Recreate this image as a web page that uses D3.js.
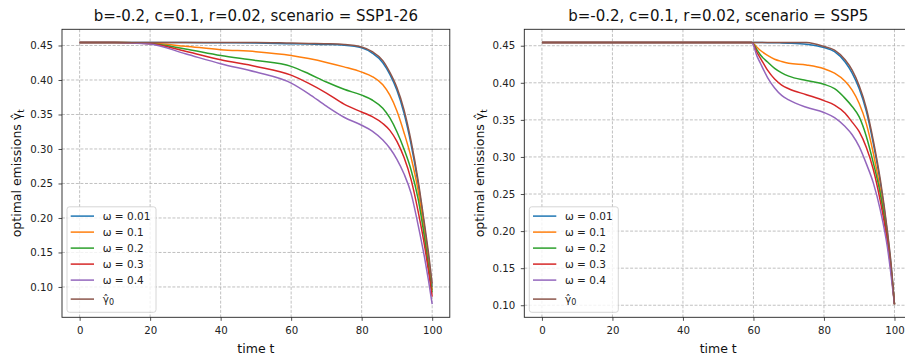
<!DOCTYPE html>
<html><head><meta charset="utf-8">
<script src="https://cdn.jsdelivr.net/npm/d3@7"></script>
<style>
html,body{margin:0;padding:0;background:#fff;}
svg{display:block;font-family:"DejaVu Sans",sans-serif;}
</style></head>
<body><svg id="chart" width="905" height="356"></svg>
<script>
// ---------- data ----------
const seriesLabels = ["ω = 0.01", "ω = 0.1", "ω = 0.2", "ω = 0.3", "ω = 0.4", "γ̂0"];
const xTicks = [0, 20, 40, 60, 80, 100];
const yTicks = [0.10, 0.15, 0.20, 0.25, 0.30, 0.35, 0.40, 0.45];
const titleA = "b=-0.2, c=0.1, r=0.02, scenario = SSP1-26";
const titleB = "b=-0.2, c=0.1, r=0.02, scenario = SSP5";

// Scenario SSP1-26
const timesA   = [0, 10, 20, 30, 40, 50, 60, 65, 70, 75, 80, 83, 86, 88, 90, 92, 94, 96, 98, 99, 100];
const w001A    = [0.4545,0.4545,0.4545,0.4543,0.454,0.4535,0.4525,0.452,0.4515,0.4505,0.4466,0.439,0.425,0.408,0.385,0.352,0.307,0.250,0.180,0.142,0.100];
const w01A     = [0.4545,0.4545,0.4535,0.449,0.444,0.441,0.4355,0.431,0.4255,0.419,0.4114,0.405,0.393,0.378,0.355,0.324,0.288,0.240,0.172,0.133,0.095];
const w02A     = [0.4545,0.4545,0.453,0.445,0.4355,0.4283,0.4197,0.409,0.397,0.3865,0.378,0.371,0.359,0.345,0.325,0.300,0.270,0.228,0.165,0.128,0.092];
const w03A     = [0.4545,0.4545,0.4525,0.4418,0.4293,0.4197,0.407,0.395,0.381,0.365,0.3536,0.347,0.337,0.327,0.311,0.288,0.256,0.210,0.155,0.122,0.086];
const w04A     = [0.4545,0.4545,0.452,0.438,0.4236,0.4115,0.3955,0.380,0.362,0.346,0.3344,0.326,0.313,0.301,0.285,0.264,0.236,0.190,0.138,0.108,0.075];
const gamma0A  = [0.4545,0.4545,0.4545,0.4545,0.4545,0.4545,0.4535,0.453,0.4525,0.4515,0.4478,0.441,0.428,0.411,0.389,0.357,0.312,0.255,0.185,0.148,0.105];

// Scenario SSP5
const timesB   = [0, 20, 40, 59.5, 61, 62, 64, 66, 68, 70, 75, 80, 83, 86, 88, 90, 92, 94, 96, 98, 99, 100];
const w001B    = [0.4545,0.4545,0.4545,0.4545,0.4544,0.4543,0.4541,0.454,0.4538,0.4535,0.452,0.4475,0.442,0.428,0.413,0.392,0.362,0.318,0.265,0.197,0.155,0.1014];
const w01B     = [0.4545,0.4545,0.4545,0.4545,0.448,0.4435,0.437,0.4318,0.4288,0.4265,0.424,0.419,0.413,0.402,0.390,0.372,0.345,0.305,0.255,0.193,0.152,0.1014];
const w02B     = [0.4545,0.4545,0.4545,0.4545,0.4445,0.4375,0.428,0.4195,0.4135,0.409,0.403,0.398,0.392,0.379,0.368,0.354,0.328,0.292,0.250,0.190,0.150,0.1014];
const w03B     = [0.4545,0.4545,0.4545,0.4545,0.441,0.433,0.417,0.405,0.397,0.392,0.384,0.376,0.370,0.359,0.347,0.334,0.313,0.283,0.240,0.185,0.148,0.1014];
const w04B     = [0.4545,0.4545,0.4545,0.4545,0.436,0.426,0.407,0.393,0.383,0.377,0.367,0.360,0.353,0.341,0.330,0.314,0.291,0.265,0.228,0.178,0.142,0.1014];
const gamma0B  = [0.4545,0.4545,0.4545,0.4545,0.4545,0.4545,0.4545,0.4545,0.4545,0.4545,0.4542,0.449,0.444,0.431,0.417,0.396,0.366,0.322,0.269,0.200,0.158,0.1014];

const colors = ["#1f77b4", "#ff7f0e", "#2ca02c", "#d62728", "#9467bd", "#8c564b"];

// ---------- drawing ----------
const svg = d3.select("#chart");

const panels = [
  {title: titleA, times: timesA, series: [w001A, w01A, w02A, w03A, w04A, gamma0A], left: 62, ylabX: 21},
  {title: titleB, times: timesB, series: [w001B, w01B, w02B, w03B, w04B, gamma0B], left: 524.3, ylabX: 484}
];
const plotTop = 29.3, plotH = 288, plotW = 387.8;

panels.forEach(p => {
  const g = svg.append("g").attr("transform", `translate(${p.left},${plotTop})`);
  const allVals = p.series.flat();
  const mn = d3.min(allVals), mx = d3.max(allVals), span = mx - mn;
  const x = d3.scaleLinear().domain([-5, 105]).range([0, plotW]);
  const y = d3.scaleLinear().domain([mn - 0.05 * span, mx + 0.05 * span]).range([plotH, 0]);

  // grid
  const grid = g.append("g").attr("stroke", "#b0b0b0").attr("stroke-width", 0.8).attr("stroke-dasharray", "3,1.6");
  xTicks.forEach(t => grid.append("line").attr("x1", x(t)).attr("x2", x(t)).attr("y1", 0).attr("y2", plotH));
  yTicks.forEach(t => grid.append("line").attr("x1", 0).attr("x2", plotW).attr("y1", y(t)).attr("y2", y(t)));

  // lines
  const clip = "clip" + Math.round(p.left);
  g.append("clipPath").attr("id", clip).append("rect").attr("width", plotW).attr("height", plotH);
  const line = d3.line().x(d => x(d[0])).y(d => y(d[1])).curve(d3.curveMonotoneX);
  p.series.forEach((vals, i) => {
    g.append("path")
      .attr("clip-path", `url(#${clip})`)
      .attr("d", line(p.times.map((t, j) => [t, vals[j]])))
      .attr("fill", "none").attr("stroke", colors[i]).attr("stroke-width", 1.5)
      .attr("stroke-linejoin", "round").attr("stroke-linecap", "butt");
  });

  // axes
  const xa = g.append("g").attr("transform", `translate(0,${plotH})`)
    .call(d3.axisBottom(x).tickValues(xTicks).tickSize(3.5).tickPadding(6).tickFormat(d3.format("d")));
  const ya = g.append("g")
    .call(d3.axisLeft(y).tickValues(yTicks).tickSize(3.5).tickPadding(5.5).tickFormat(d3.format(".2f")));
  [xa, ya].forEach(a => {
    a.select(".domain").remove();
    a.selectAll("line").attr("stroke", "#222").attr("stroke-width", 0.8);
    a.selectAll("text").attr("fill", "#222").style("font-size", "10.2px").style("font-family", "DejaVu Sans");
  });

  // frame
  g.append("rect").attr("width", plotW).attr("height", plotH)
    .attr("fill", "none").attr("stroke", "#222").attr("stroke-width", 0.9);

  // title
  svg.append("text").attr("x", p.left + plotW / 2).attr("y", 21)
    .attr("text-anchor", "middle").attr("fill", "#111").style("font-size", "15px").text(p.title);

  // x label
  svg.append("text").attr("x", p.left + plotW / 2).attr("y", 353)
    .attr("text-anchor", "middle").attr("fill", "#111").style("font-size", "12.5px").text("time t");

  // y label
  const yl = svg.append("text")
    .attr("transform", `translate(${p.ylabX},${plotTop + plotH / 2}) rotate(-90)`)
    .attr("text-anchor", "middle").attr("fill", "#111").style("font-size", "12.5px");
  yl.append("tspan").text("optimal emissions γ\u0302");
  yl.append("tspan").attr("dy", 3).style("font-size", "9px").text("t");

  // legend
  const lg = g.append("g").attr("transform", `translate(5,${plotH - 5 - 105.5})`);
  lg.append("rect").attr("width", 89).attr("height", 105.5).attr("rx", 2.5)
    .attr("fill", "#fff").attr("fill-opacity", 0.8).attr("stroke", "#cccccc").attr("stroke-width", 0.8);
  const rowY = [9.3, 25.3, 41.3, 57.3, 73.3, 92.3];
  seriesLabels.forEach((lab, i) => {
    lg.append("line").attr("x1", 3.7).attr("x2", 27).attr("y1", rowY[i]).attr("y2", rowY[i])
      .attr("stroke", colors[i]).attr("stroke-width", 1.5);
    const t = lg.append("text").attr("x", 35.7).attr("y", rowY[i] + 3.9)
      .attr("fill", "#222").style("font-size", "10.5px");
    if (i < 5) {
      t.text(lab);
    } else {
      t.append("tspan").text("γ\u0302");
      t.append("tspan").attr("dy", 2.5).style("font-size", "8px").text("0");
    }
  });
});
</script>
</body></html>
